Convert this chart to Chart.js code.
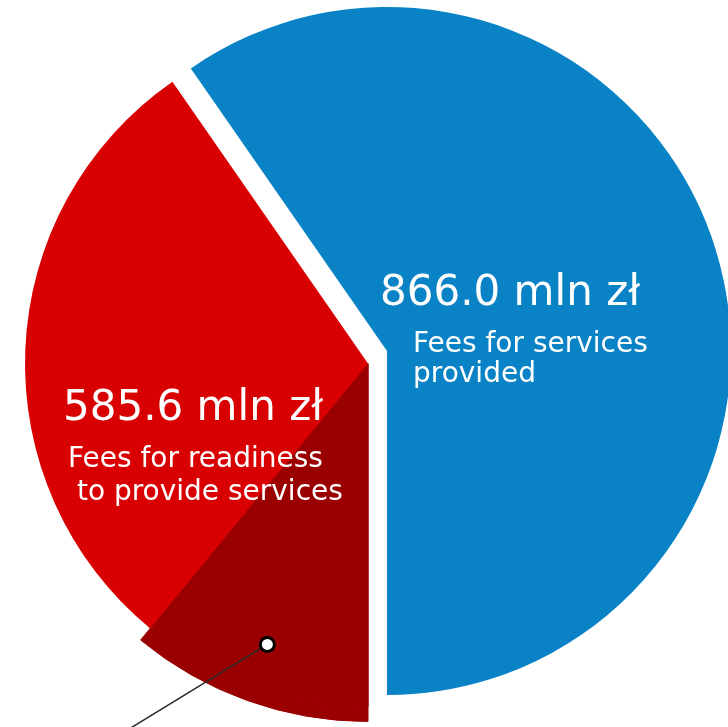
<!DOCTYPE html>
<html>
<head>
<meta charset="utf-8">
<script src="https://cdn.jsdelivr.net/npm/chart.js@4.4.1/dist/chart.umd.min.js"></script>
<style>
  html, body { margin: 0; padding: 0; background: #ffffff; }
  #wrap { position: relative; width: 728px; height: 727px; }
  #wrap canvas { position: absolute; left: 0; top: 0; }
</style>
</head>
<body>
<div id="wrap">
  <canvas id="cBlue" width="728" height="727"></canvas>
  <canvas id="cRed" width="728" height="727"></canvas>
</div>
<script>
// ---- data ----
const categories = ['Fees for services provided', 'Fees for readiness to provide services'];
const amounts = [866.0, 585.6];            // mln zł
const titleLines = [['Fees for services', 'provided'], ['Fees for readiness', ' to provide services']];
const highlightedPart = 159;               // estimated dark sub-slice of readiness fees (mln zł)
const unit = 'mln zł';

// ---- derived ----
const total = amounts[0] + amounts[1];
const sliceValues = [amounts[0], highlightedPart, amounts[1] - highlightedPart];
const sliceLabels = [categories[0], categories[1] + ' (highlighted part)', categories[1] + ' (rest)'];
const startRotation = 180 - 360 * amounts[0] / total;

const BLUE = '#0983c6', RED = '#d80000', DARK = '#9a0000', NONE = 'rgba(0,0,0,0)';

const baseOptions = (padding, radius) => ({
  responsive: false,
  animation: false,
  events: [],
  rotation: startRotation,
  radius: radius,
  layout: { padding: padding },
  plugins: {
    legend: { display: false },
    tooltip: { enabled: false },
    title: { display: false }
  }
});

// exploded slice: fees for services provided (blue)
new Chart(document.getElementById('cBlue'), {
  type: 'pie',
  data: {
    labels: sliceLabels,
    datasets: [{
      data: sliceValues,
      backgroundColor: [BLUE, NONE, NONE],
      borderWidth: 0,
      clip: false
    }]
  },
  options: baseOptions({ left: 46, right: 0, top: 0, bottom: 25 }, 344)
});

const labelPlugin = {
  id: 'labels',
  afterDatasetsDraw(chart) {
    const ctx = chart.ctx;
    const arcs = chart.getDatasetMeta(1).data;
    const cx = arcs[0].x, cy = arcs[0].y;

    // marker on the dark sub-slice with leader line
    const dark = arcs[1];
    const mid = (dark.startAngle + dark.endAngle) / 2;
    const mr = dark.outerRadius * 0.87;
    const mx = cx + Math.cos(mid) * mr, my = cy + Math.sin(mid) * mr;
    ctx.save();
    ctx.strokeStyle = '#2a2a2a';
    ctx.lineWidth = 1.5;
    ctx.beginPath();
    ctx.moveTo(mx, my);
    ctx.lineTo(mx - 0.85 * 300, my + 0.52 * 300);
    ctx.stroke();
    ctx.beginPath();
    ctx.arc(mx, my, 8.5, 0, Math.PI * 2);
    ctx.fillStyle = '#000000';
    ctx.fill();
    ctx.beginPath();
    ctx.arc(mx, my, 5.5, 0, Math.PI * 2);
    ctx.fillStyle = '#ffffff';
    ctx.fill();

    // text
    ctx.fillStyle = '#ffffff';
    ctx.textBaseline = 'alphabetic';
    ctx.textAlign = 'left';
    ctx.font = '42px "DejaVu Sans"';
    ctx.fillText(amounts[0].toFixed(1) + ' ' + unit, cx + 12, cy - 58.5);
    ctx.fillText(amounts[1].toFixed(1) + ' ' + unit, cx - 305, cy + 56.5);
    ctx.font = '28px "DejaVu Sans"';
    ctx.fillText(titleLines[0][0], cx + 45, cy - 11.5);
    ctx.fillText(titleLines[0][1], cx + 45, cy + 18.5);
    ctx.fillText(titleLines[1][0], cx - 300, cy + 103.5);
    ctx.fillText(titleLines[1][1], cx - 300, cy + 136.5);
    ctx.restore();
  }
};

// readiness fees (red) with the highlighted dark sub-slice reaching further out
new Chart(document.getElementById('cRed'), {
  type: 'pie',
  data: {
    labels: sliceLabels,
    datasets: [
      {
        data: sliceValues,
        backgroundColor: [NONE, DARK, NONE],
        borderColor: [NONE, DARK, NONE],
        borderWidth: [0, 1, 0],
        weight: 15,
        clip: false
      },
      {
        data: sliceValues,
        backgroundColor: [NONE, DARK, RED],
        borderColor: [NONE, DARK, NONE],
        borderWidth: [0, 1.5, 0],
        weight: 343,
        clip: false
      }
    ]
  },
  options: baseOptions({ left: 8, right: 0, top: 0, bottom: 0 }, 358),
  plugins: [labelPlugin]
});
</script>
</body>
</html>
